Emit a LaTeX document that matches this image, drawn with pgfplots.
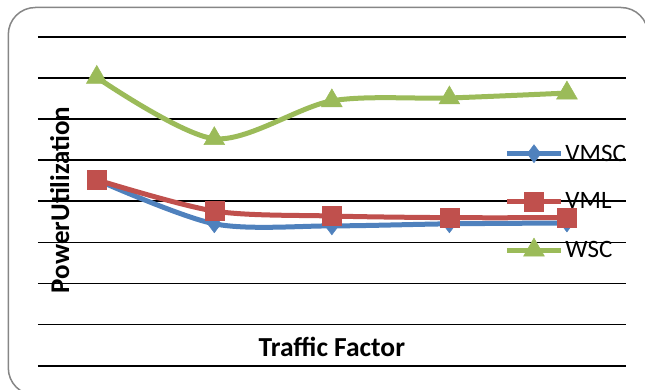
\documentclass[border=0pt]{standalone}
\usepackage{pgfplots}
\pgfplotsset{compat=1.18}
\usepackage{fontspec}
\setmainfont{Carlito}

\definecolor{sBlue}{RGB}{79,129,189}
\definecolor{sRed}{RGB}{192,80,77}
\definecolor{sGreen}{RGB}{155,187,89}
\definecolor{frameGray}{RGB}{134,134,134}

\begin{document}
\begin{tikzpicture}
\useasboundingbox (0pt,0pt) rectangle (645pt,-390pt);
\clip (0pt,0pt) rectangle (645pt,-390pt);
% visible part of the rounded chart frame: left side, top side and two corners
\draw[frameGray, line width=1.5pt]
  (35.3pt,-395pt) arc[start angle=270, end angle=180, radius=27pt]
  -- (8.3pt,-34.5pt) arc[start angle=180, end angle=90, radius=27pt]
  -- (621pt,-7.5pt) arc[start angle=90, end angle=0, radius=27pt];
\begin{axis}[
  at={(38pt,-365.7pt)}, anchor=south west,
  scale only axis, width=587.7pt, height=329pt,
  xmin=0.5, xmax=5.5, ymin=0, ymax=8,
  xtick=\empty, ytick={0,1,...,8}, yticklabels={},
  ymajorgrids, major grid style={black, line width=1.6pt},
  axis line style={draw=none}, tick style={draw=none},
  clip=false,
  xlabel={\fontsize{27.5}{31}\selectfont\bfseries Traffic Factor},
  xlabel style={at={(axis description cs:0.5,0.057)}, anchor=center, inner sep=0pt},
  ylabel={\fontsize{27}{31}\selectfont\bfseries PowerUtilization},
  ylabel style={at={(axis description cs:0.037,0.504)}, anchor=center, inner sep=0pt},
  legend cell align=left,
  legend image code/.code={%
    \draw[mark repeat=2, mark phase=2, #1]
      plot coordinates {(0pt,0pt) (27pt,0pt) (54pt,0pt)};},
  legend style={draw=none, fill=none, at={(axis description cs:0.7934,0.678)},
    anchor=north west, row sep=26pt, inner sep=0pt,
    font=\fontsize{25}{28}\selectfont,
    nodes={inner sep=2pt}},
  every axis plot/.append style={line width=5pt, smooth, tension=0.5},
]
\addplot[sBlue, mark=diamond*, mark size=9pt,
  mark options={solid, line width=0.5pt, fill=sBlue}]
  coordinates {(1,4.52) (2,3.45) (3,3.40) (4,3.45) (5,3.47)};
\addlegendentry{VMSC}
\addplot[sRed, mark=square*, mark size=9.5pt,
  mark options={solid, line width=0.5pt, fill=sRed}]
  coordinates {(1,4.52) (2,3.76) (3,3.64) (4,3.60) (5,3.60)};
\addlegendentry{VML}
\addplot[sGreen, mark=triangle*, mark size=12pt,
  mark options={solid, line width=0.5pt, fill=sGreen}]
  coordinates {(1,7.01) (2,5.52) (3,6.44) (4,6.51) (5,6.63)};
\addlegendentry{WSC}
\end{axis}
\end{tikzpicture}
\end{document}
